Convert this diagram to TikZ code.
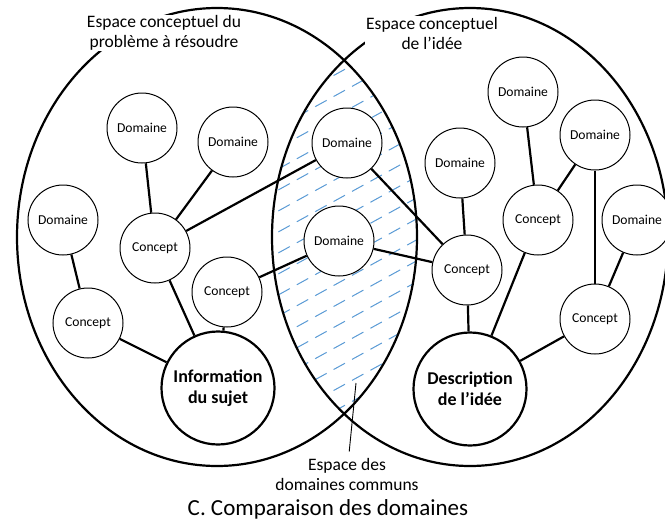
\documentclass[tikz,border=0pt]{standalone}
\usepackage{fontspec}
\setmainfont{Carlito}
\definecolor{hatchblue}{RGB}{91,155,213}
\begin{document}
\begin{tikzpicture}[x=1pt,y=-1pt,
  smallc/.style={circle,draw,line width=1pt,fill=white,minimum size=70pt,inner sep=0pt,font=\fontsize{13.6}{16}\selectfont},
  bigc/.style={circle,draw,line width=2.2pt,fill=white,minimum size=113pt,inner sep=0pt,align=center,font=\fontsize{18}{21}\selectfont\bfseries},
  edge/.style={line width=2.2pt},
  space/.style={line width=2.2pt},
  lbl/.style={fill=white,inner sep=1pt,align=center,font=\fontsize{17.5}{20}\selectfont},
  hatchline/.style={hatchblue,line width=1pt,dash pattern=on 13pt off 8pt}]
\useasboundingbox (0,0) rectangle (665,531);
% hatching of the common region
\begin{scope}
  \clip (217,237) ellipse [x radius=200pt, y radius=229pt];
  \clip (470,237) ellipse [x radius=198pt, y radius=229pt];
  \foreach \k in {-13,...,11}
    \draw[hatchline] (260,{305+21*\k}) -- ++(170,-93.5);
\end{scope}
% the two spaces
\draw[space] (217,237) ellipse [x radius=200pt, y radius=229pt];
\draw[space] (470,237) ellipse [x radius=198pt, y radius=229pt];
% titles
\node[lbl] (t1) at (164,33) {Espace conceptuel du\\problème à résoudre};
\node[lbl] (t2) at (432,33) {Espace conceptuel\\de l’idée};
% left nodes
\node[smallc] (dA) at (142,128) {Domaine};
\node[smallc] (dB) at (233,142) {Domaine};
\node[smallc] (dC) at (63,220) {Domaine};
\node[smallc] (cD) at (155,248) {Concept};
\node[smallc] (cE) at (88,323) {Concept};
\node[smallc] (cF) at (227,292) {Concept};
\node[bigc] (info) at (218,388) {Information\\du sujet};
% common nodes
\node[smallc] (dG) at (347,143) {Domaine};
\node[smallc] (dH) at (339,241) {Domaine};
% right nodes
\node[smallc] (dI) at (460,163) {Domaine};
\node[smallc] (dJ) at (523,92) {Domaine};
\node[smallc] (dK) at (595,135) {Domaine};
\node[smallc] (cL) at (538,220) {Concept};
\node[smallc] (dM) at (637,220) {Domaine};
\node[smallc] (cN) at (467,270) {Concept};
\node[smallc] (cO) at (595,319) {Concept};
\node[bigc] (desc) at (470,389) {Description\\de l’idée};
% connectors
\draw[edge] (dA) -- (cD);
\draw[edge] (dB) -- (cD);
\draw[edge] (cD) -- (dG);
\draw[edge] (cD) -- (info);
\draw[edge] (dC) -- (cE);
\draw[edge] (cE) -- (info);
\draw[edge] (cF) -- (info);
\draw[edge] (cF) -- (dH);
\draw[edge] (dG) -- (cN);
\draw[edge] (dH) -- (cN);
\draw[edge] (dI) -- (cN);
\draw[edge] (cN) -- (desc);
\draw[edge] (dJ) -- (cL);
\draw[edge] (dK) -- (cL);
\draw[edge] (cL) -- (desc);
\draw[edge] (dK) -- (cO);
\draw[edge] (dM) -- (cO);
\draw[edge] (cO) -- (desc);
% common-space label
\node[lbl,fill=none] (common) at (347,474) {Espace des\\domaines communs};
\coordinate (ptr) at (356,383);
\draw[line width=0.9pt,shorten >=5pt] (ptr) -- (common);
% caption
\node[font=\fontsize{23}{27}\selectfont,inner sep=0pt] (cap) at (328,509) {C. Comparaison des domaines};
\end{tikzpicture}
\end{document}
